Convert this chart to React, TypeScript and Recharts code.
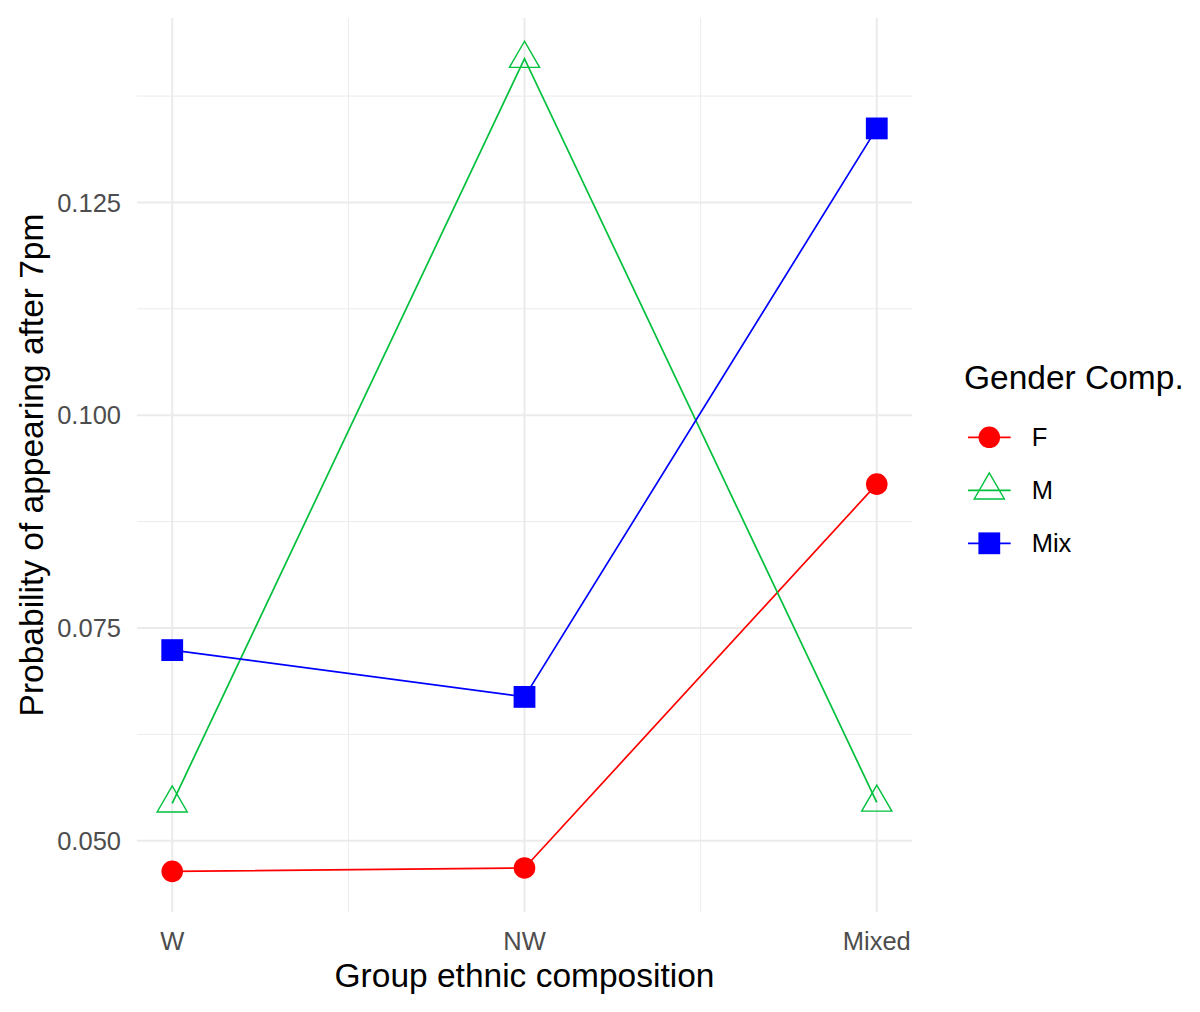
import React from "react";
import { LineChart, Line, XAxis, YAxis, CartesianGrid, Legend } from "recharts";

const categories = ["W", "NW", "Mixed"];
const fValues = [0.0464, 0.0468, 0.0919];
const mValues = [0.0544, 0.1419, 0.0545];
const mixValues = [0.0724, 0.0669, 0.1337];
const yTicks = [0.05, 0.075, 0.1, 0.125];
const yMinorTicks = [0.0625, 0.0875, 0.1125, 0.1375];
const xTicks = [0, 1, 2];
const xMinorTicks = [0.5, 1.5];

const series = [
  { key: "F", color: "#FF0000", shape: "circle" },
  { key: "M", color: "#00C03C", shape: "triangle" },
  { key: "Mix", color: "#0000FF", shape: "square" },
];

const data = categories.map((c, i) => ({
  idx: i,
  cat: c,
  F: fValues[i],
  M: mValues[i],
  Mix: mixValues[i],
}));

// ggplot-style 5% expansion of the y range
const allVals = [...fValues, ...mValues, ...mixValues];
const yLo = Math.min(...allVals);
const yHi = Math.max(...allVals);
const yPad = (yHi - yLo) * 0.05;
const yDomain = [yLo - yPad, yHi + yPad];
const xDomain = [-0.1, 2.1];

const FONT = "'Liberation Sans', Arial, Helvetica, sans-serif";

function Marker({ shape, cx, cy, color }: { shape: string; cx: number; cy: number; color: string }) {
  if (shape === "circle") return <circle cx={cx} cy={cy} r={10.8} fill={color} />;
  if (shape === "square")
    return <rect x={cx - 10.9} y={cy - 10.9} width={21.8} height={21.8} fill={color} />;
  const r = 8.7;
  const s3 = Math.sqrt(3);
  const pts = `${cx},${cy - 2 * r} ${cx - r * s3},${cy + r} ${cx + r * s3},${cy + r}`;
  return <polygon points={pts} fill="none" stroke={color} strokeWidth={1.4} />;
}

function LegendBox() {
  return (
    <svg width={260} height={220} style={{ display: "block" }}>
      <text x={24} y={39.3} fontSize={33.5} fontFamily={FONT} fill="#000">
        Gender Comp.
      </text>
      {series.map((s, i) => {
        const cy = 87.3 + i * 53;
        return (
          <g key={s.key}>
            <line x1={28} x2={70.7} y1={cy} y2={cy} stroke={s.color} strokeWidth={1.8} />
            <Marker shape={s.shape} cx={49.3} cy={cy} color={s.color} />
            <text x={91.7} y={cy} dy="0.355em" fontSize={25.5} fontFamily={FONT} fill="#000">
              {s.key}
            </text>
          </g>
        );
      })}
    </svg>
  );
}

export default function App() {
  return (
    <div
      style={{
        position: "absolute",
        left: 0,
        top: 0,
        width: 1200,
        height: 1012,
        background: "#fff",
        fontFamily: FONT,
      }}
    >
      <LineChart
        width={1200}
        height={1012}
        data={data}
        margin={{ top: 18, right: 288, bottom: 0, left: 0 }}
      >
        <XAxis
          dataKey="idx"
          type="number"
          domain={xDomain}
          ticks={xTicks}
          allowDataOverflow
          tickFormatter={(v: number) => categories[v]}
          height={100}
          axisLine={false}
          tickLine={false}
          tickSize={0}
          tickMargin={20}
          tick={{ fill: "#4D4D4D", fontSize: 25.5, fontFamily: FONT }}
          label={{
            content: (p: any) => {
              const vb = p.viewBox;
              return (
                <text
                  x={vb.x + vb.width / 2}
                  y={987}
                  textAnchor="middle"
                  fontSize={33.5}
                  fontFamily={FONT}
                  fill="#000"
                >
                  Group ethnic composition
                </text>
              );
            },
          }}
        />
        <YAxis
          type="number"
          domain={yDomain}
          ticks={yTicks}
          allowDataOverflow
          tickFormatter={(v: number) => v.toFixed(3)}
          width={137}
          axisLine={false}
          tickLine={false}
          tickSize={0}
          tickMargin={16}
          tick={{ fill: "#4D4D4D", fontSize: 25.5, fontFamily: FONT }}
          label={{
            content: (p: any) => {
              const vb = p.viewBox;
              const cx = 30.8;
              const cy = vb.y + vb.height / 2;
              return (
                <text
                  x={cx}
                  y={cy}
                  dy="0.355em"
                  transform={`rotate(-90, ${cx}, ${cy})`}
                  textAnchor="middle"
                  fontSize={33.5}
                  fontFamily={FONT}
                  fill="#000"
                >
                  Probability of appearing after 7pm
                </text>
              );
            },
          }}
        />
        <CartesianGrid
          stroke="#EBEBEB"
          strokeWidth={1}
          horizontalValues={yMinorTicks}
          verticalValues={xMinorTicks}
        />
        <CartesianGrid
          stroke="#EBEBEB"
          strokeWidth={2}
          horizontalValues={yTicks}
          verticalValues={xTicks}
        />
        {series.map((s) => (
          <Line
            key={`line-${s.key}`}
            type="linear"
            dataKey={s.key}
            stroke={s.color}
            strokeWidth={1.7}
            dot={false}
            activeDot={false}
            isAnimationActive={false}
          />
        ))}
        {series.map((s) => (
          <Line
            key={`pts-${s.key}`}
            type="linear"
            dataKey={s.key}
            stroke="none"
            activeDot={false}
            legendType="none"
            isAnimationActive={false}
            dot={(p: any) => (
              <Marker key={`${s.key}-${p.index}`} shape={s.shape} cx={p.cx} cy={p.cy} color={s.color} />
            )}
          />
        ))}
        <Legend
          layout="vertical"
          align="center"
          verticalAlign="middle"
          wrapperStyle={{ left: 940, top: 350, width: 260, height: 220 }}
          content={() => <LegendBox />}
        />
      </LineChart>
    </div>
  );
}
